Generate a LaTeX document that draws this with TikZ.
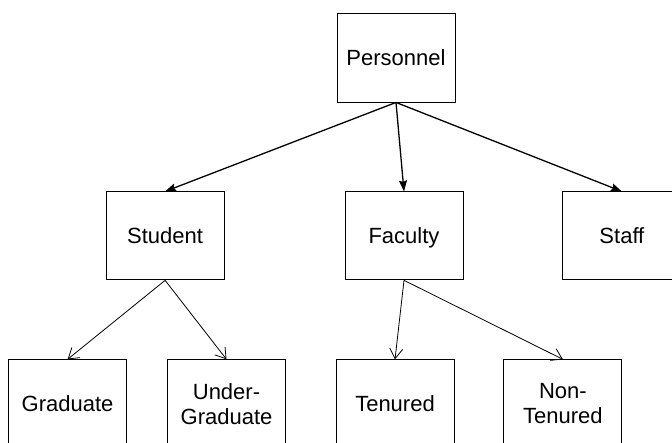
\documentclass[tikz,border=0pt]{standalone}
\usepackage{fontspec}
\setmainfont{Liberation Sans}
\usetikzlibrary{arrows.meta, positioning}
\tikzset{
    cls/.style={draw, line width=0.9pt, minimum width=118pt, minimum height=88pt,
                inner sep=2pt, align=center, font=\fontsize{22}{25}\selectfont},
    toparrow/.style={-{Stealth[length=11pt, width=8pt, inset=1.5pt]}, line width=1.3pt},
    subarrow/.style={-{Straight Barb[length=10pt, width=13pt]}, line width=0.8pt},
}

\begin{document}
\begin{tikzpicture}[node distance=89pt and 120pt]
    \useasboundingbox (0,0) rectangle (672pt,-443pt);
    \node[cls, minimum height=89pt] (personnel) at (396pt,-57.5pt) {Personnel};
    \node[cls, text depth=0pt, below=of personnel, xshift=8pt] (faculty) {Faculty};
    \node[cls, left=of faculty] (student) {Student};
    \node[cls, right=99pt of faculty] (staff) {Staff};
    \node[cls, below=79pt of student, xshift=-97.5pt] (grad) {Graduate};
    \node[cls, right=40pt of grad] (undergrad) {Under-\\Graduate};
    \node[cls, below=79pt of faculty, xshift=-9pt] (tenured) {Tenured};
    \node[cls, right=49pt of tenured] (nontenured) {Non-\\Tenured};
    \draw[toparrow] (personnel.south) -- (student.north);
    \draw[toparrow] (personnel.south) -- (faculty.north);
    \draw[toparrow] (personnel.south) -- (staff.north);
    \draw[subarrow] (student.south) -- (grad.north);
    \draw[subarrow] (student.south) -- (undergrad.north);
    \draw[subarrow] (faculty.south) -- (tenured.north);
    \draw[subarrow] (faculty.south) -- (nontenured.north);
\end{tikzpicture}
\end{document}
